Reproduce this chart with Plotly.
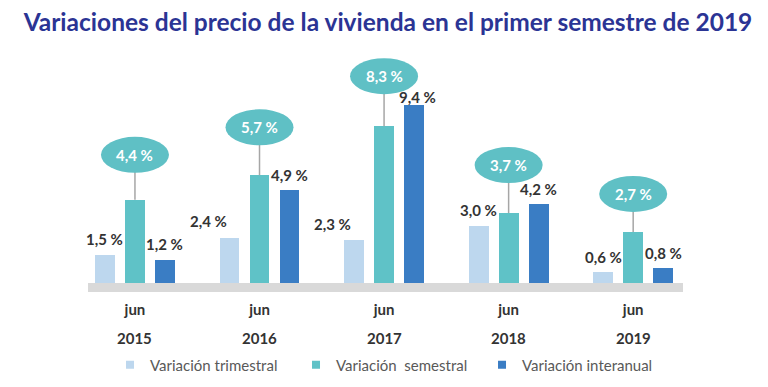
import plotly.graph_objects as go

years = ["2015", "2016", "2017", "2018", "2019"]
month_labels = ["jun", "jun", "jun", "jun", "jun"]
trimestral = [1.5, 2.4, 2.3, 3.0, 0.6]
semestral = [4.4, 5.7, 8.3, 3.7, 2.7]
interanual = [1.2, 4.9, 9.4, 4.2, 0.8]
series_names = ["Variación trimestral", "Variación  semestral", "Variación interanual"]

# layout/style settings
colors = ["#bdd7ee", "#5fc2c7", "#3a7dc4"]
bubble_color = "#5fc0c5"
bar_w = 0.16
bar_off = 0.241
tri_dx = [0, -21, -22, 0, 0]
tri_dy = [16, 17, 16, 16, 15]
int_dx = [0, 0, 3, 0, 0]
int_dy = [16, 15, 8, 15, 15]
bubble_dy = [45, 48, 50, 48, 38]

def fmt(v):
    return f"{v:.1f}".replace(".", ",") + " %"

idx = list(range(len(years)))
xs = [[i - bar_off for i in idx], [i for i in idx], [i + bar_off for i in idx]]
vals = [trimestral, semestral, interanual]

fig = go.Figure()
for k in range(3):
    fig.add_trace(go.Bar(
        x=xs[k], y=vals[k], width=bar_w, name=series_names[k],
        marker=dict(color=colors[k], line=dict(width=0)),
        hoverinfo="y", showlegend=False,
    ))
# legend entries with small square symbols
for k in range(3):
    fig.add_trace(go.Scatter(
        x=[None], y=[None], mode="markers", name=series_names[k],
        marker=dict(symbol="square", size=8, color=colors[k]),
        showlegend=True,
    ))

lab_font = dict(family="Lato", size=15, color="#333333")
annotations = []
shapes = []
# gray baseline band
shapes.append(dict(type="rect", xref="paper", x0=0, x1=1, yref="y", y0=-0.476, y1=0,
                   fillcolor="#d9d9d9", line=dict(width=0), layer="below"))
for i in idx:
    annotations.append(dict(x=xs[0][i], y=trimestral[i], xref="x", yref="y",
                            text="<b>" + fmt(trimestral[i]) + "</b>", showarrow=False,
                            xshift=tri_dx[i], yshift=tri_dy[i], yanchor="middle",
                            font=lab_font))
    annotations.append(dict(x=xs[2][i], y=interanual[i], xref="x", yref="y",
                            text="<b>" + fmt(interanual[i]) + "</b>", showarrow=False,
                            xshift=int_dx[i], yshift=int_dy[i], yanchor="middle",
                            font=lab_font))
    # bubble
    off = bubble_dy[i]
    shapes.append(dict(type="line", xref="x", yref="y", xsizemode="pixel", ysizemode="pixel",
                       xanchor=xs[1][i], yanchor=semestral[i], x0=0, x1=0, y0=0, y1=off - 17,
                       line=dict(color="#a6a6a6", width=1.5)))
    shapes.append(dict(type="circle", xref="x", yref="y", xsizemode="pixel", ysizemode="pixel",
                       xanchor=xs[1][i], yanchor=semestral[i], x0=-34, x1=34,
                       y0=off - 18, y1=off + 18,
                       fillcolor=bubble_color, line=dict(width=0)))
    annotations.append(dict(x=xs[1][i], y=semestral[i], xref="x", yref="y",
                            text="<b>" + fmt(semestral[i]) + "</b>", showarrow=False,
                            yshift=off, yanchor="middle",
                            font=dict(family="Lato", size=15, color="#ffffff")))
    annotations.append(dict(x=i, y=-0.189, xref="x", yref="paper", text="<b>" + years[i] + "</b>",
                            showarrow=False, yanchor="middle",
                            font=dict(family="Lato", size=15, color="#333333")))

fig.update_layout(
    width=760, height=379, autosize=False,
    margin=dict(l=80, r=85, t=42, b=95, autoexpand=False),
    paper_bgcolor="white", plot_bgcolor="white",
    barmode="overlay",
    title=dict(text="<b>Variaciones del precio de la vivienda en el primer semestre de 2019</b>",
               x=0.5, xref="container", xanchor="center",
               y=1 - 14 / 379, yref="container", yanchor="middle",
               font=dict(family="Lato", size=24.5, color="#2b3494")),
    xaxis=dict(range=[-0.377, 4.40], tickmode="array", tickvals=idx,
               ticktext=["<b>" + m + "</b>" for m in month_labels],
               tickfont=dict(family="Lato", size=15, color="#333333"),
               showgrid=False, zeroline=False, showline=False, ticks="",
               ticklabelstandoff=7, fixedrange=True),
    yaxis=dict(range=[-0.476, 12.33], visible=False, showgrid=False, zeroline=False,
               fixedrange=True),
    showlegend=True,
    legend=dict(orientation="h", x=0.037, xanchor="left", y=-0.302, yanchor="middle",
                font=dict(family="Lato", size=15, color="#595959"),
                entrywidthmode="pixels", entrywidth=141, traceorder="normal",
                itemclick=False, itemdoubleclick=False),
    annotations=annotations,
    shapes=shapes,
    bargap=0,
)

fig.write_html("out.html")
